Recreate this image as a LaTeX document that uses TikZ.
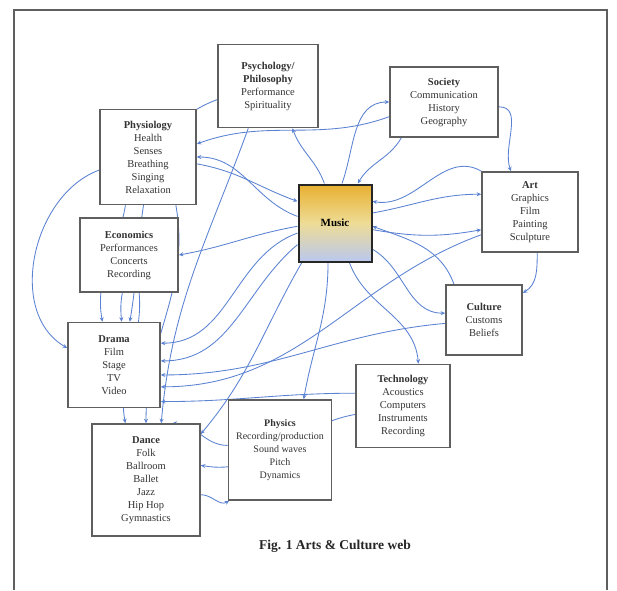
\documentclass[tikz,border=0pt]{standalone}
\usepackage{fontspec}
\setmainfont{Liberation Serif}
\usetikzlibrary{arrows.meta}
\pgfdeclarelayer{back}
\pgfdeclarelayer{bg}
\pgfsetlayers{back,bg,main}
\definecolor{wire}{RGB}{90,130,210}
\definecolor{frame}{RGB}{95,95,95}
\definecolor{mtop}{RGB}{232,176,48}
\definecolor{mmid}{RGB}{238,220,150}
\definecolor{mbot}{RGB}{185,200,238}
\tikzset{
  bx/.style 2 args={draw=frame, line width=1.6pt, fill=white, minimum width=#1pt, minimum height=#2pt,
    inner sep=0pt, align=center, font=\fontsize{10.5}{13}\selectfont, text=black!80},
  lk/.style={draw=wire, line width=0.85pt, -{Stealth[length=4.5pt,width=4pt]}},
}
\begin{document}
\begin{tikzpicture}[x=1pt,y=1pt]
\useasboundingbox (0,0) rectangle (617,-590);
\begin{pgfonlayer}{back}
\fill[white] (0,0) rectangle (617,-590);
\end{pgfonlayer}
\draw[frame, line width=1.5pt] (14,-590) -- (14,-10) -- (607,-10) -- (607,-590);

\node[bx={100}{83}] (psy) at (268,-86) {\textbf{Psychology/}\\\textbf{Philosophy}\\Performance\\Spirituality};
\node[bx={108}{70}] (soc) at (444,-102) {\textbf{Society}\\Communication\\History\\Geography};
\node[bx={96}{95}] (phy) at (148,-157) {\textbf{Physiology}\\Health\\Senses\\Breathing\\Singing\\Relaxation};
\node[bx={98}{74}] (eco) at (129,-255) {\textbf{Economics}\\Performances\\Concerts\\Recording};
\node[draw=black!85, line width=2pt, minimum width=73pt, minimum height=77pt, inner sep=0pt,
  top color=mtop, bottom color=mbot, middle color=mmid, font=\fontsize{11}{13}\selectfont] (mus) at (335,-223) {\textbf{Music}};
\node[bx={96}{80}] (art) at (530,-212) {\textbf{Art}\\Graphics\\Film\\Painting\\Sculpture};
\node[bx={76}{70}] (cul) at (484,-320) {\textbf{Culture}\\Customs\\Beliefs};
\node[bx={92}{85}] (dra) at (114,-365) {\textbf{Drama}\\Film\\Stage\\TV\\Video};
\node[bx={94}{83}] (tec) at (403,-406) {\textbf{Technology}\\Acoustics\\Computers\\Instruments\\Recording};
\node[bx={103}{100}, font=\fontsize{10}{13}\selectfont] (phs) at (280,-450) {\textbf{Physics}\\Recording/production\\Sound waves\\Pitch\\Dynamics};
\node[bx={108}{112}] (dan) at (146,-480) {\textbf{Dance}\\Folk\\Ballroom\\Ballet\\Jazz\\Hip Hop\\Gymnastics};
\node[font=\fontsize{13.5}{15}\selectfont\bfseries, text=black!85] (cap) at (335,-546) {Fig. 1 Arts \& Culture web};

\begin{pgfonlayer}{bg}
\draw[lk] (mus.170) to[out=160,in=0] (phy.east);
\draw[lk] (mus.105) to[out=110,in=-70] (psy.-60);
\draw[lk] (mus.80) to[out=70,in=180] (soc.west);
\draw[lk] (mus.15) to[out=10,in=180] (art.160);
\draw[lk] (mus.-10) to[out=-10,in=190] (art.200);
\draw[lk] (mus.-35) to[out=-30,in=180] (cul.170);
\draw[lk] (mus.-70) to[out=-70,in=95] (tec.70);
\draw[lk] (mus.-100) to[out=-90,in=80] (phs.65);
\draw[lk] (mus.-130) to[out=-120,in=50] (dan.40);
\draw[lk] (mus.195) to[out=200,in=0] (dra.25);
\draw[lk] (mus.-150) to[out=220,in=0] (dra.5);
\draw[lk] (mus.185) to[out=190,in=10] (eco.east);
\draw[lk] (phy.195) to[out=200,in=150] (dra.160);
\draw[lk] (phy.-115) to[out=-100,in=100] (dra.105);
\draw[lk] (soc.-5) to[out=0,in=110] (art.115);
\draw[lk] (soc.195) to[out=200,in=20] (phy.15);
\draw[lk] (art.205) to[out=200,in=0] (dra.-25);
\draw[lk] (cul.130) to[out=110,in=-20] (mus.-5);
\draw[lk] (tec.165) to[out=180,in=0] (dra.-38);
\draw[lk] (phs.175) to[out=180,in=0] (dan.65);
\draw[lk] (dan.-15) to[out=0,in=-150] (phs.-135);
\draw[lk] (psy.195) to[out=200,in=80] (dra.70);
\draw[lk] (psy.-115) to[out=-110,in=85] (dan.75);
\draw[lk] (eco.-75) to[out=-85,in=100] (dan.110);
\draw[lk] (soc.-140) to[out=-120,in=60] (mus.60);
\draw[lk] (cul.185) to[out=185,in=0] (dra.-12);
\draw[lk] (art.-80) to[out=-90,in=30] (cul.35);
\draw[lk] (tec.-170) to[out=190,in=-10] (dan.15);
\draw[lk] (phy.-8) to[out=-10,in=160] (mus.150);
\draw[lk] (eco.-100) to[out=-100,in=95] (dra.80);
\draw[lk] (phy.-60) to[out=-80,in=90] (dan.90);
\draw[lk] (art.140) to[out=150,in=-10] (mus.30);
\end{pgfonlayer}
\end{tikzpicture}
\end{document}
